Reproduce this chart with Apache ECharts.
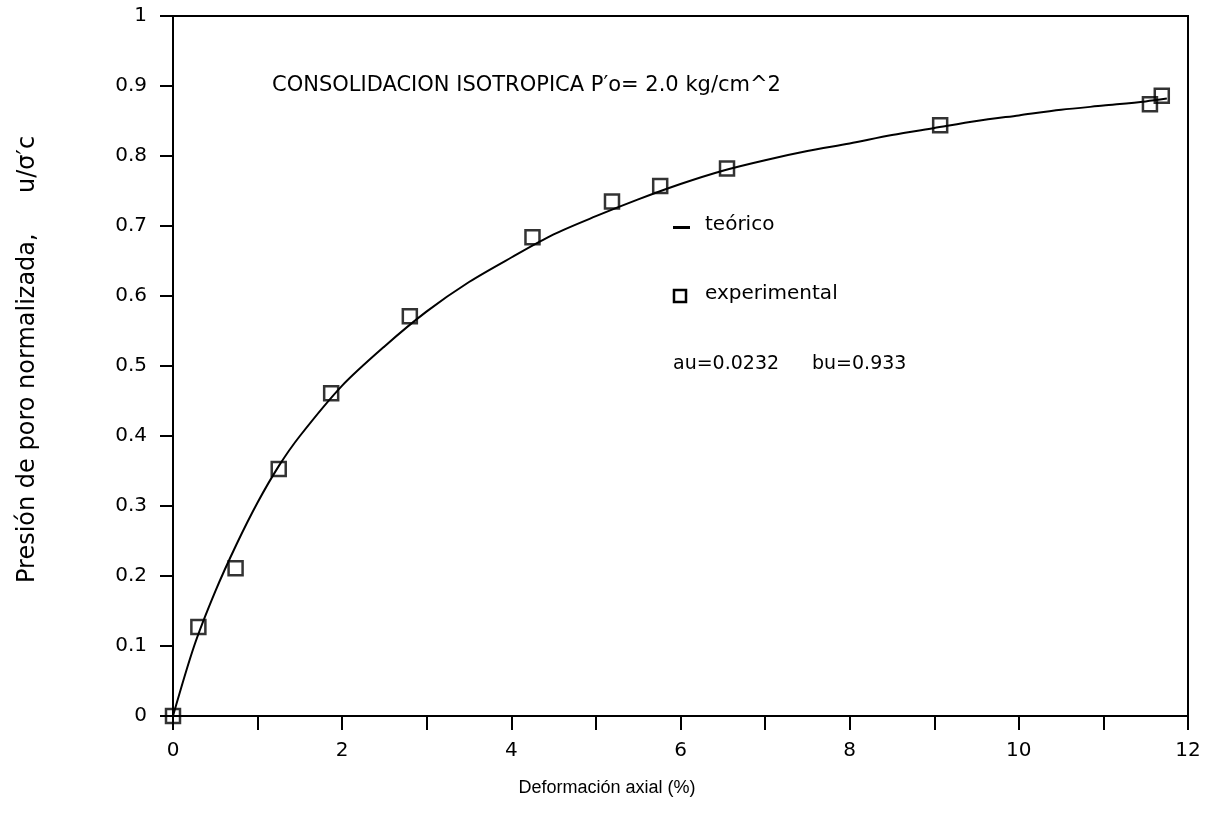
<!DOCTYPE html>
<html>
<head>
<meta charset="utf-8">
<title>Consolidacion isotropica</title>
<script src="https://cdn.jsdelivr.net/npm/echarts@6/dist/echarts.min.js"></script>
<style>
  html, body { margin: 0; padding: 0; background: #fff; }
  #chart { width: 1205px; height: 813px; }
</style>
</head>
<body>
<div id="chart"></div>
<script>
// puntos experimentales: deformacion axial (%), u/sigma'c
var expStrain = [0, 0.3, 0.74, 1.25, 1.87, 2.8, 4.25, 5.19, 5.76, 6.55, 9.07, 11.55, 11.69];
var expPore = [0, 0.127, 0.211, 0.353, 0.461, 0.571, 0.684, 0.735, 0.757, 0.782, 0.844, 0.874, 0.886];

// curva teorica
var teoStrain = [0, 0.25, 0.5, 0.75, 1, 1.25, 1.5, 2, 2.5, 3, 3.5, 4, 4.5, 5, 5.5, 6, 6.5, 7, 7.5, 8, 8.5, 9, 9.5, 10, 10.5, 11, 11.5, 11.75];
var teoPore = [0, 0.1, 0.178, 0.245, 0.305, 0.357, 0.4, 0.472, 0.528, 0.578, 0.62, 0.655, 0.688, 0.714, 0.738, 0.76, 0.779, 0.794, 0.807, 0.818, 0.83, 0.84, 0.85, 0.858, 0.866, 0.872, 0.878, 0.882];

var txtFont = "DejaVu Sans";

// texto negro sin fondo
function txt(s, size, family, extra) {
  var st = { text: s, fill: "#000", fontSize: size, fontFamily: family || txtFont };
  for (var k in extra || {}) st[k] = extra[k];
  return st;
}

var chart = echarts.init(document.getElementById("chart"));

var option = {
  animation: false,
  backgroundColor: "#fff",
  grid: {
    left: 173,
    right: 17,
    top: 16,
    bottom: 97,
    show: true,
    borderColor: "#000",
    borderWidth: 2,
  },
  xAxis: {
    type: "value",
    min: 0,
    max: 12,
    interval: 1,
    axisLine: { onZero: false, lineStyle: { color: "#000", width: 2 } },
    axisTick: { inside: false, length: 14, lineStyle: { color: "#000", width: 2 } },
    splitLine: { show: false },
    axisLabel: {
      color: "#000",
      fontFamily: txtFont,
      fontSize: 20,
      margin: 25,
      formatter: function (v) {
        return v % 2 === 0 ? String(v) : "";
      },
    },
  },
  yAxis: {
    type: "value",
    min: 0,
    max: 1,
    interval: 0.1,
    axisLine: { onZero: false, lineStyle: { color: "#000", width: 2 } },
    axisTick: { inside: false, length: 13, lineStyle: { color: "#000", width: 2 } },
    splitLine: { show: false },
    axisLabel: {
      color: "#000",
      fontFamily: txtFont,
      fontSize: 20,
      margin: 26,
      formatter: function (v) {
        return String(Math.round(v * 10) / 10);
      },
    },
  },
  series: [
    {
      name: "teórico",
      type: "line",
      smooth: 0.3,
      showSymbol: false,
      lineStyle: { color: "#000", width: 2 },
      data: teoStrain.map(function (x, i) {
        return [x, teoPore[i]];
      }),
      z: 2,
    },
    {
      name: "experimental",
      type: "scatter",
      symbol: "rect",
      symbolSize: 14,
      itemStyle: { color: "rgba(255,255,255,0)", borderColor: "#000", borderWidth: 2.5 },
      data: expStrain.map(function (x, i) {
        return [x, expPore[i]];
      }),
      z: 3,
    },
  ],
  graphic: [
    {
      type: "text",
      left: 272,
      top: 75,
      style: txt("CONSOLIDACION ISOTROPICA P′o= 2.0 kg/cm^2", 21),
    },
    // leyenda
    {
      type: "rect",
      shape: { x: 673, y: 226, width: 17, height: 3 },
      style: { fill: "#000" },
    },
    { type: "text", left: 705, top: 215, style: txt("teórico", 20) },
    {
      type: "rect",
      shape: { x: 674, y: 290, width: 12, height: 12 },
      style: { fill: "none", stroke: "#000", lineWidth: 2.5 },
    },
    { type: "text", left: 705, top: 284, style: txt("experimental", 20) },
    { type: "text", left: 673, top: 355, style: txt("au=0.0232", 19) },
    { type: "text", left: 812, top: 355, style: txt("bu=0.933", 19) },
    // titulos de ejes
    {
      type: "text",
      x: 607,
      y: 788,
      style: txt("Deformación axial (%)", 18, "Liberation Sans", { align: "center", verticalAlign: "middle" }),
    },
    {
      type: "text",
      x: 28,
      y: 583,
      rotation: Math.PI / 2,
      style: txt("Presión de poro normalizada,", 24, txtFont, { align: "left", verticalAlign: "middle" }),
    },
    {
      type: "text",
      x: 28,
      y: 193,
      rotation: Math.PI / 2,
      style: txt("u/σ′c", 24, txtFont, { align: "left", verticalAlign: "middle" }),
    },
  ],
};

chart.setOption(option);
</script>
</body>
</html>
